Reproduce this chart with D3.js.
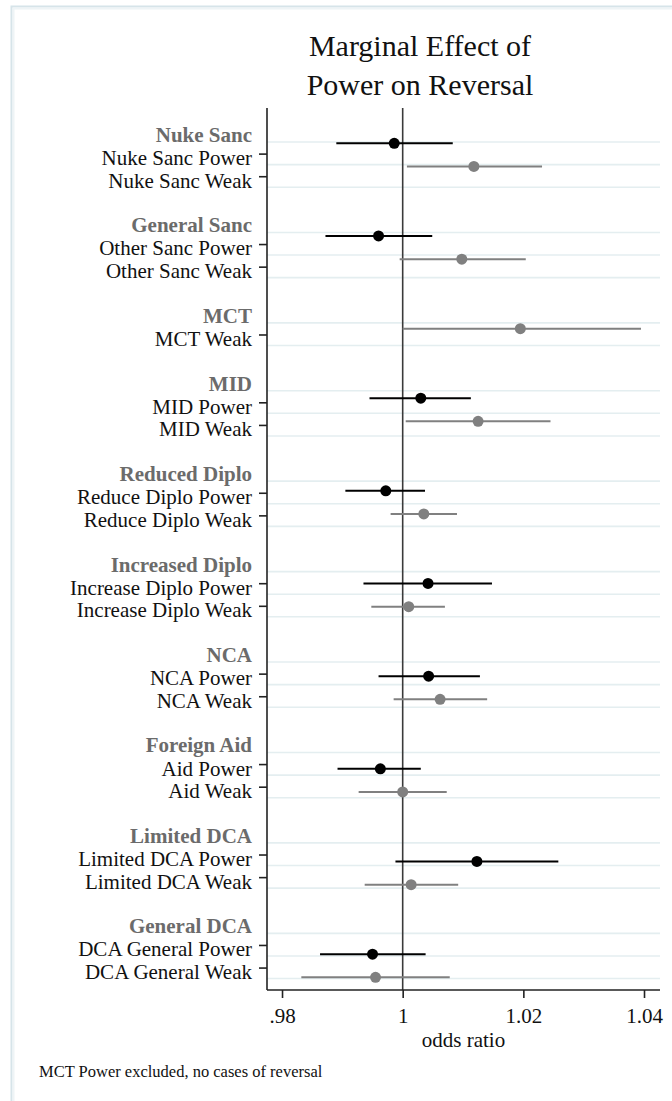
<!DOCTYPE html>
<html>
<head>
<meta charset="utf-8">
<script src="https://cdn.jsdelivr.net/npm/d3@7"></script>
<style>
  html, body { margin: 0; padding: 0; background: #fff; }
  svg { display: block; }
  text { font-family: "Liberation Serif", "Times New Roman", serif; }
</style>
</head>
<body>
<svg id="chart" width="672" height="1101"></svg>
<script>
// Outcome groups (section headers) in display order
const groups = ["Nuke Sanc", "General Sanc", "MCT", "MID", "Reduced Diplo",
  "Increased Diplo", "NCA", "Foreign Aid", "Limited DCA", "General DCA"];

// Estimated coefficients, one entry per plotted row
const itemLabels = [
  "Nuke Sanc Power", "Nuke Sanc Weak",
  "Other Sanc Power", "Other Sanc Weak",
  "MCT Weak",
  "MID Power", "MID Weak",
  "Reduce Diplo Power", "Reduce Diplo Weak",
  "Increase Diplo Power", "Increase Diplo Weak",
  "NCA Power", "NCA Weak",
  "Aid Power", "Aid Weak",
  "Limited DCA Power", "Limited DCA Weak",
  "DCA General Power", "DCA General Weak"
];
const itemGroup = [0, 0, 1, 1, 2, 3, 3, 4, 4, 5, 5, 6, 6, 7, 7, 8, 8, 9, 9];
const itemType = ["Power", "Weak", "Power", "Weak", "Weak", "Power", "Weak",
  "Power", "Weak", "Power", "Weak", "Power", "Weak", "Power", "Weak",
  "Power", "Weak", "Power", "Weak"];
const oddsRatio = [0.9986, 1.0118, 0.9960, 1.0098, 1.0195, 1.0030, 1.0125,
  0.9972, 1.0035, 1.0042, 1.0010, 1.0043, 1.0062, 0.9963, 1.0000,
  1.0123, 1.0014, 0.9950, 0.9955];
const ciLow = [0.9890, 1.0007, 0.9872, 0.9995, 1.0000, 0.9945, 1.0005,
  0.9905, 0.9980, 0.9935, 0.9948, 0.9960, 0.9985, 0.9892, 0.9927,
  0.9988, 0.9937, 0.9863, 0.9832];
const ciHigh = [1.0083, 1.0231, 1.0049, 1.0204, 1.0395, 1.0113, 1.0245,
  1.0037, 1.0090, 1.0148, 1.0070, 1.0128, 1.0140, 1.0030, 1.0073,
  1.0258, 1.0092, 1.0038, 1.0078];

const xTicks = [0.98, 1, 1.02, 1.04];
const titleLines = ["Marginal Effect of", "Power on Reversal"];
const xTitle = "odds ratio";
const note = "MCT Power excluded, no cases of reversal";

// Build row layout: header row, item rows, blank spacer between groups
const headerRows = [];
const itemRows = [];
let r = 0;
groups.forEach((g, gi) => {
  headerRows.push({ label: g, row: r });
  r += 1;
  itemLabels.forEach((lab, i) => {
    if (itemGroup[i] === gi) {
      itemRows.push({ label: lab, row: r, type: itemType[i],
        est: oddsRatio[i], lo: ciLow[i], hi: ciHigh[i] });
      r += 1;
    }
  });
  r += 1;
});
const lastRow = r - 2;

const svg = d3.select("#chart");
const plot = { left: 267, right: 660, top: 108, bottom: 990 };

// Outer graph region frame (runs off the right and bottom edges)
svg.append("rect")
  .attr("x", 11.5).attr("y", 6.5)
  .attr("width", 700).attr("height", 1120)
  .attr("fill", "none").attr("stroke", "#d6e4e9").attr("stroke-width", 2);
svg.append("rect")
  .attr("x", 13.5).attr("y", 8.5)
  .attr("width", 700).attr("height", 1120)
  .attr("fill", "none").attr("stroke", "#eef4f6").attr("stroke-width", 2);

const x = d3.scaleLinear().domain([0.97751, 1.04265]).range([plot.left, plot.right]);
// Label rows (text, ticks, grid) and marker rows use slightly different spacing
const yRow = d3.scaleLinear().domain([0, lastRow]).range([142, 142 + lastRow * 22.61]);
const yMark = d3.scaleLinear().domain([1, lastRow]).range([143.3, 977.3]);

// Horizontal grid lines at every labelled row
const gridRows = headerRows.map(d => d.row).concat(itemRows.map(d => d.row));
svg.append("g").selectAll("line").data(gridRows).join("line")
  .attr("x1", plot.left).attr("x2", plot.right)
  .attr("y1", d => yRow(d)).attr("y2", d => yRow(d))
  .attr("stroke", "#e4eef0").attr("stroke-width", 1.6);

// Reference line at odds ratio 1
svg.append("line")
  .attr("x1", x(1)).attr("x2", x(1))
  .attr("y1", plot.top).attr("y2", plot.bottom)
  .attr("stroke", "#3a3a3a").attr("stroke-width", 1.6);

// Left axis with item labels
const yTick = d3.scaleLinear().domain(yRow.domain()).range(yRow.range().map(v => v - 11));
const yAxis = d3.axisLeft(yTick)
  .tickValues(itemRows.map(d => d.row))
  .tickFormat(v => itemRows.find(d => d.row === v).label)
  .tickSize(8).tickPadding(7);
const gy = svg.append("g").attr("transform", `translate(${plot.left},0)`).call(yAxis);
gy.select(".domain").remove();
gy.selectAll(".tick line").attr("stroke", "#222").attr("stroke-width", 1.6);
gy.selectAll(".tick text")
  .attr("dy", "0.52em")
  .attr("font-size", 21)
  .attr("font-family", "'Liberation Serif', 'Times New Roman', serif")
  .attr("fill", "#111");
svg.append("line")
  .attr("x1", plot.left).attr("x2", plot.left)
  .attr("y1", plot.top).attr("y2", plot.bottom)
  .attr("stroke", "#222").attr("stroke-width", 1.6);

// Group headers
svg.append("g").selectAll("text").data(headerRows).join("text")
  .attr("x", 252).attr("y", d => yRow(d.row))
  .attr("text-anchor", "end")
  .attr("font-size", 21).attr("font-weight", "bold")
  .attr("fill", "#6b6b6b")
  .text(d => d.label);

// Bottom axis
const xAxis = d3.axisBottom(x)
  .tickValues(xTicks)
  .tickFormat(d => d === 1 ? "1" : d3.format(".2f")(d).replace(/^0/, ""))
  .tickSize(8);
const gx = svg.append("g").attr("transform", `translate(0,${plot.bottom})`).call(xAxis);
gx.select(".domain").attr("stroke", "#222").attr("stroke-width", 1.6)
  .attr("d", `M${plot.left},0H${plot.right}`);
gx.selectAll(".tick line").attr("stroke", "#222").attr("stroke-width", 1.6);
gx.selectAll(".tick text")
  .attr("y", 33).attr("dy", 0)
  .attr("font-size", 21)
  .attr("font-family", "'Liberation Serif', 'Times New Roman', serif")
  .attr("fill", "#111");

svg.append("text")
  .attr("x", (plot.left + plot.right) / 2).attr("y", 1047)
  .attr("text-anchor", "middle").attr("font-size", 21).attr("fill", "#111")
  .text(xTitle);

// Confidence intervals and point estimates
const colour = t => t === "Power" ? "#000000" : "#808080";
const marks = svg.append("g");
marks.selectAll("line").data(itemRows).join("line")
  .attr("x1", d => x(d.lo)).attr("x2", d => x(d.hi))
  .attr("y1", d => yMark(d.row)).attr("y2", d => yMark(d.row))
  .attr("stroke", d => colour(d.type)).attr("stroke-width", 2);
marks.selectAll("circle").data(itemRows).join("circle")
  .attr("cx", d => x(d.est)).attr("cy", d => yMark(d.row))
  .attr("r", 5.5).attr("fill", d => colour(d.type));

// Title
svg.append("g").selectAll("text").data(titleLines).join("text")
  .attr("x", 420).attr("y", (d, i) => 56 + i * 39)
  .attr("text-anchor", "middle").attr("font-size", 30).attr("fill", "#111")
  .text(d => d);

// Note
svg.append("text")
  .attr("x", 39).attr("y", 1077)
  .attr("font-size", 16.5).attr("fill", "#111")
  .text(note);
</script>
</body>
</html>
